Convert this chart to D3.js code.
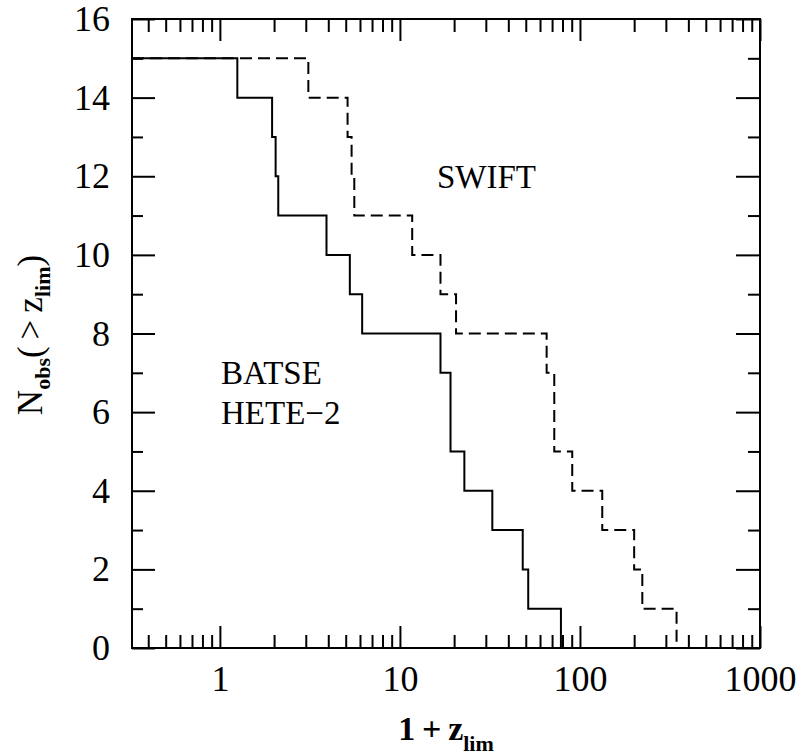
<!DOCTYPE html>
<html lang="en">

<head>
  <meta charset="utf-8">
  <title>N_obs(>z_lim)</title>
  <script src="https://d3js.org/d3.v7.min.js"></script>
  <style>
    body { margin: 0; background: #fff; }
    text { font-family: "Liberation Serif", "DejaVu Serif", serif; fill: #000; }
    .tick line { stroke: #000; stroke-width: 2; }
  </style>
</head>

<body>
  <script>
    // step data: x where N drops, and the N level after the drop
    var startN = 15;
    var batseDropX = [1.25, 1.95, 2.04, 2.11, 3.91, 5.27, 6.17, 16.8, 19.1, 22.8, 32.6, 48.1, 51.6, 78.4];
    var batseN = [14, 13, 12, 11, 10, 9, 8, 7, 5, 4, 3, 2, 1, 0];
    var swiftDropX = [3.1, 5.12, 5.39, 5.58, 11.7, 16.8, 20.5, 65.3, 72.0, 90.6, 133, 200, 222, 344];
    var swiftN = [14, 13, 12, 11, 10, 9, 8, 7, 5, 4, 3, 2, 1, 0];

    var xMajor = [1, 10, 100, 1000];
    var xMinor = [0.4, 0.5, 0.6, 0.7, 0.8, 0.9,
      2, 3, 4, 5, 6, 7, 8, 9, 20, 30, 40, 50, 60, 70, 80, 90,
      200, 300, 400, 500, 600, 700, 800, 900];
    var yMajor = [0, 2, 4, 6, 8, 10, 12, 14, 16];
    var yMinor = [1, 3, 5, 7, 9, 11, 13, 15];

    var w = 801, h = 755;
    var margin = { top: 19, right: 41, bottom: 107, left: 132 };
    var innerW = w - margin.left - margin.right,
      innerH = h - margin.top - margin.bottom;

    var x = d3.scaleLog().domain([0.325, 1000]).range([0, innerW]);
    var y = d3.scaleLinear().domain([0, 16]).range([innerH, 0]);

    var svg = d3.select('body').append('svg')
      .attr('width', w)
      .attr('height', h);
    var g = svg.append('g')
      .attr('transform', 'translate(' + [margin.left, margin.top] + ')');

    function steps(dropX, levels) {
      var pts = [[x.domain()[0], startN]];
      dropX.forEach(function (d, i) { pts.push([d, levels[i]]); });
      return pts;
    }
    var line = d3.line()
      .x(function (d) { return x(d[0]); })
      .y(function (d) { return y(d[1]); })
      .curve(d3.curveStepAfter);

    // axes, ticks pointing inward
    function styleAxis(sel, size) {
      sel.select('.domain').remove();
      sel.selectAll('text').style('font-size', size + 'px');
    }
    g.append('g').attr('transform', 'translate(0,' + innerH + ')')
      .call(d3.axisBottom(x).tickValues(xMajor).tickSizeInner(-22).tickSizeOuter(0)
        .tickPadding(17).tickFormat(d3.format('d')))
      .call(styleAxis, 36);
    g.append('g').attr('transform', 'translate(0,' + innerH + ')')
      .call(d3.axisBottom(x).tickValues(xMinor).tickSizeInner(-13).tickSizeOuter(0).tickFormat(''))
      .call(styleAxis, 36);
    g.append('g')
      .call(d3.axisTop(x).tickValues(xMajor).tickSizeInner(-22).tickSizeOuter(0).tickFormat(''))
      .call(styleAxis, 36);
    g.append('g')
      .call(d3.axisTop(x).tickValues(xMinor).tickSizeInner(-13).tickSizeOuter(0).tickFormat(''))
      .call(styleAxis, 36);
    g.append('g')
      .call(d3.axisLeft(y).tickValues(yMajor).tickSizeInner(-23).tickSizeOuter(0).tickPadding(22))
      .call(styleAxis, 36);
    g.append('g')
      .call(d3.axisLeft(y).tickValues(yMinor).tickSizeInner(-11).tickSizeOuter(0).tickFormat(''))
      .call(styleAxis, 36);
    g.append('g').attr('transform', 'translate(' + innerW + ',0)')
      .call(d3.axisRight(y).tickValues(yMajor).tickSizeInner(-24).tickSizeOuter(0).tickFormat(''))
      .call(styleAxis, 36);
    g.append('g').attr('transform', 'translate(' + innerW + ',0)')
      .call(d3.axisRight(y).tickValues(yMinor).tickSizeInner(-12).tickSizeOuter(0).tickFormat(''))
      .call(styleAxis, 36);
    g.selectAll('.tick text').attr('font-family', null);

    g.append('rect')
      .attr('width', innerW).attr('height', innerH)
      .attr('fill', 'none').attr('stroke', '#000').attr('stroke-width', 2);

    // curves
    g.append('path')
      .datum(steps(batseDropX, batseN))
      .attr('d', line)
      .attr('fill', 'none').attr('stroke', '#000').attr('stroke-width', 2);
    g.append('path')
      .datum(steps(swiftDropX, swiftN))
      .attr('d', line)
      .attr('fill', 'none').attr('stroke', '#000').attr('stroke-width', 2)
      .attr('stroke-dasharray', '12,6');

    // labels
    g.append('text').attr('x', 305).attr('y', 169).style('font-size', '33px').text('SWIFT');
    g.append('text').attr('x', 89).attr('y', 365).style('font-size', '33px').text('BATSE');
    g.append('text').attr('x', 89).attr('y', 405).style('font-size', '33px').text('HETE\u22122');

    // axis titles
    var xt = svg.append('text')
      .attr('x', margin.left + innerW / 2).attr('y', 740)
      .attr('text-anchor', 'middle')
      .style('font-size', '34px').style('font-weight', 'bold');
    xt.append('tspan').text('1\u2009+\u2009z');
    xt.append('tspan').attr('dy', 11).style('font-size', '22px').text('lim');

    var yt = svg.append('text')
      .attr('transform', 'translate(42,335) rotate(-90)')
      .attr('text-anchor', 'middle')
      .style('font-size', '35px');
    yt.append('tspan').text('N');
    yt.append('tspan').attr('dy', 8).style('font-size', '22px').style('font-weight', 'bold').text('obs');
    yt.append('tspan').attr('dy', -8).text('(\u2009>\u2009z');
    yt.append('tspan').attr('dy', 8).style('font-size', '22px').style('font-weight', 'bold').text('lim');
    yt.append('tspan').attr('dy', -8).text(')');
  </script>
</body>

</html>
